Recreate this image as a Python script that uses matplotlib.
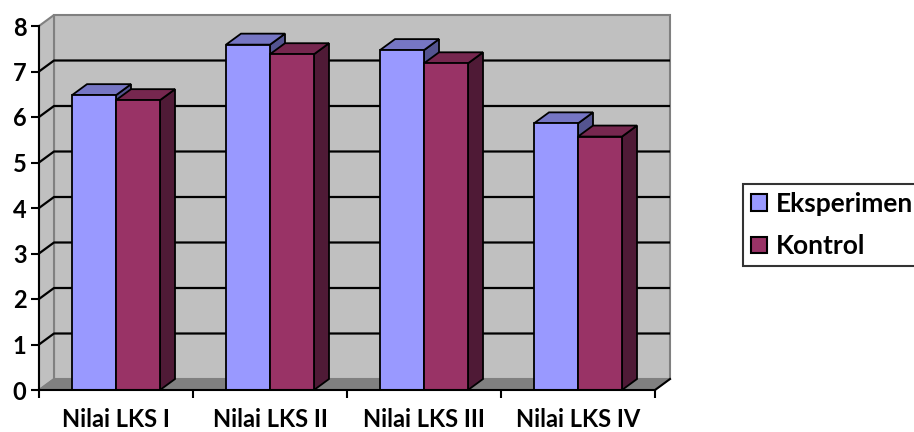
import matplotlib.pyplot as plt
from matplotlib.patches import Polygon, Rectangle, Patch

categories = ["Nilai LKS I", "Nilai LKS II", "Nilai LKS III", "Nilai LKS IV"]
series_names = ["Eksperimen", "Kontrol"]
eksperimen = [6.48, 7.59, 7.47, 5.86]
kontrol = [6.37, 7.38, 7.18, 5.57]
y_ticks = [0, 1, 2, 3, 4, 5, 6, 7, 8]

# front, top and side face colours for each series
colors = {
    "Eksperimen": ("#9999FF", "#7676C4", "#545490"),
    "Kontrol": ("#993366", "#76274F", "#4F1A36"),
}

plt.rcParams["font.family"] = ["Lato", "DejaVu Sans"]
plt.rcParams["font.weight"] = "bold"

fig = plt.figure(figsize=(9.14, 4.32), dpi=100)
ax = fig.add_axes([39 / 914, 42 / 432, 616 / 914, 364 / 432])
ax.set_xlim(0, len(categories))
ax.set_ylim(0, 8)
ax.patch.set_visible(False)

# depth of the 3d box, in data units
DX = 15 / 154
DY = 11 / 45.5
n = len(categories)
top = y_ticks[-1]

# walls and floor
ax.add_patch(Rectangle((DX, DY), n, top, fc="#C0C0C0", ec="#808080", lw=1.5,
                       zorder=0.5, clip_on=False))
ax.add_patch(Polygon([(0, 0), (DX, DY), (DX, top + DY), (0, top)],
                     fc="#C0C0C0", ec="#808080", lw=1.5, zorder=0.5, clip_on=False))
ax.add_patch(Polygon([(0, 0), (n, 0), (n + DX, DY), (DX, DY)],
                     fc="#808080", ec="#808080", lw=1, zorder=0.6, clip_on=False))

# gridlines across the side wall and the back wall
for v in y_ticks[1:-1]:
    ax.plot([0, DX, n + DX], [v, v + DY, v + DY], color="black", lw=1.6,
            zorder=1, clip_on=False, solid_capstyle="butt")
ax.plot([n, n + DX], [0, DY], color="black", lw=1.5, zorder=1, clip_on=False)

# 3d columns
w = 1 / 3.5
gap = (1 - 2 * w) / 2
for j, (name, vals) in enumerate(zip(series_names, [eksperimen, kontrol])):
    front, ctop, side = colors[name]
    for i, h in enumerate(vals):
        x0 = i + gap + j * w
        z = 2 + j
        ax.add_patch(Polygon([(x0 + w, 0), (x0 + w + DX, DY), (x0 + w + DX, h + DY), (x0 + w, h)],
                             fc=side, ec="black", lw=1.3, zorder=z, clip_on=False))
        ax.add_patch(Polygon([(x0, h), (x0 + w, h), (x0 + w + DX, h + DY), (x0 + DX, h + DY)],
                             fc=ctop, ec="black", lw=1.3, zorder=z, clip_on=False))
        ax.add_patch(Rectangle((x0, 0), w, h, fc=front, ec="black", lw=1.3,
                               zorder=z, clip_on=False))

for s in ["top", "right"]:
    ax.spines[s].set_visible(False)
for s in ["left", "bottom"]:
    ax.spines[s].set_linewidth(1.5)
    ax.spines[s].set_zorder(5)

ax.set_yticks(y_ticks)
ax.tick_params(axis="y", direction="out", length=6, width=1.5, pad=3, labelsize=17)
ax.set_xticks(range(n + 1))
ax.set_xticklabels([])
ax.set_xticks([i + 0.5 for i in range(n)], minor=True)
ax.set_xticklabels(categories, minor=True, fontsize=17, fontweight="bold")
ax.tick_params(axis="x", which="major", direction="out", length=6, width=1.5)
ax.tick_params(axis="x", which="minor", length=0, pad=13)

handles = [Patch(fc=colors[nm][0], ec="black", lw=1.5) for nm in series_names]
leg = fig.legend(handles, series_names, loc="center left",
                 bbox_to_anchor=(743 / 914, 207 / 432), frameon=True, fancybox=False,
                 handlelength=0.6, handleheight=0.6, handletextpad=0.35,
                 borderpad=0.3, labelspacing=0.7, fontsize=19, borderaxespad=0)
leg.get_frame().set_edgecolor("black")
leg.get_frame().set_linewidth(1.5)

fig.savefig("out.png", dpi=100)
